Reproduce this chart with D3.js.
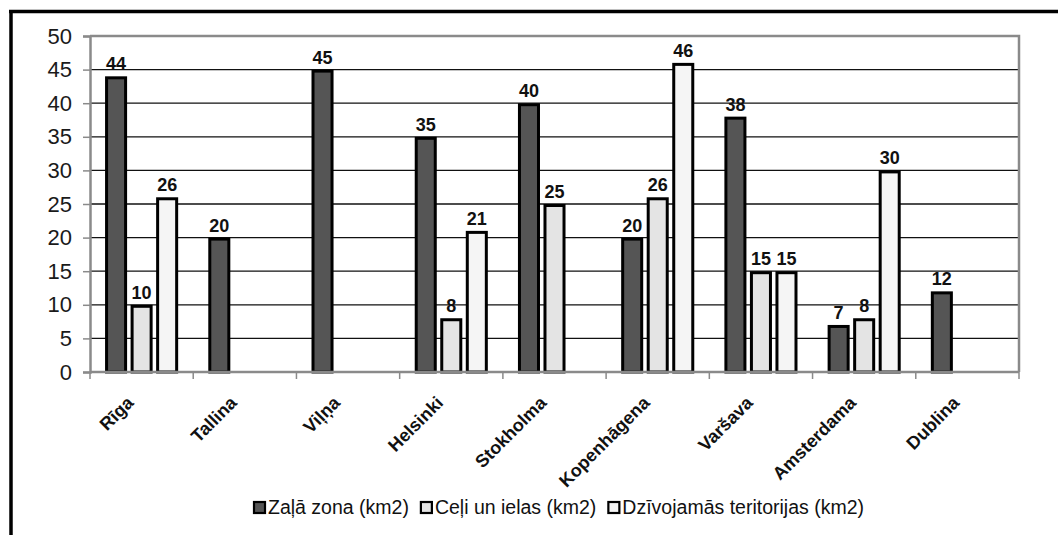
<!DOCTYPE html>
<html lang="lv">
<head>
<meta charset="UTF-8">
<title>Teritorijas</title>
<script src="https://cdn.jsdelivr.net/npm/d3@7"></script>
<style>
  body { margin: 0; background: #fff; }
  svg text { font-family: "Liberation Sans", Arial, sans-serif; }
</style>
</head>
<body>
<svg id="chart" width="1058" height="535"></svg>
<script>
// dati
const pilsetas = ['Rīga', 'Tallina', 'Viļņa', 'Helsinki', 'Stokholma', 'Kopenhāgena', 'Varšava', 'Amsterdama', 'Dublina'];
const serijas = ['Zaļā zona (km2)', 'Ceļi un ielas (km2)', 'Dzīvojamās teritorijas (km2)'];
const zalaZona = [44, 20, 45, 35, 40, 20, 38, 7, 12];
const celi = [10, null, null, 8, 25, 26, 15, 8, null];
const dzivojamas = [26, null, null, 21, null, 46, 15, 30, null];
const yTicks = [0, 5, 10, 15, 20, 25, 30, 35, 40, 45, 50];

const krasas = ['#555555', '#e4e4e4', '#f5f5f5'];
const vertibas = [zalaZona, celi, dzivojamas];

const svg = d3.select('#chart');

// ramis (tikai augsa un kreisa mala redzama)
svg.append('line').attr('x1', 9).attr('x2', 1058).attr('y1', 11.5).attr('y2', 11.5)
    .attr('stroke', '#000').attr('stroke-width', 3.5);
svg.append('line').attr('x1', 11).attr('x2', 11).attr('y1', 10).attr('y2', 535)
    .attr('stroke', '#000').attr('stroke-width', 3.5);

const pLeft = 90, pRight = 1019, pTop = 36, pBottom = 372;

const x = d3.scaleBand().domain(pilsetas).range([pLeft, pRight]).padding(0);
const xs = d3.scaleBand().domain(d3.range(3)).range([0, x.bandwidth()])
    .paddingInner(0.137).paddingOuter(0.59);
const y = d3.scaleLinear().domain([0, 50]).range([pBottom, pTop]);

// rezga linijas
svg.append('g').selectAll('line').data(yTicks.filter(d => d > 0 && d < 50)).enter()
    .append('line')
    .attr('x1', pLeft).attr('x2', pRight)
    .attr('y1', d => y(d)).attr('y2', d => y(d))
    .attr('stroke', '#111').attr('stroke-width', 1.3);

// grafika laukuma augsa un laba mala
svg.append('path')
    .attr('d', `M${pLeft},${pTop}H${pRight}V${pBottom}`)
    .attr('fill', 'none').attr('stroke', '#8a8a8a').attr('stroke-width', 2.5);

// stabini
const grupas = svg.append('g').selectAll('g').data(pilsetas).enter()
    .append('g').attr('transform', d => `translate(${x(d)},0)`);

grupas.selectAll('rect')
    .data((d, i) => vertibas.map((s, k) => ({ k: k, v: s[i] })).filter(o => o.v != null))
    .enter().append('rect')
    .attr('x', d => xs(d.k) + 1.5)
    .attr('width', xs.bandwidth() - 3)
    .attr('y', d => y(d.v) + 1.5)
    .attr('height', d => pBottom - y(d.v) - 1.5)
    .attr('fill', d => krasas[d.k])
    .attr('stroke', '#000').attr('stroke-width', 3);

grupas.selectAll('text')
    .data((d, i) => vertibas.map((s, k) => ({ k: k, v: s[i] })).filter(o => o.v != null))
    .enter().append('text')
    .attr('x', d => xs(d.k) + xs.bandwidth() / 2)
    .attr('y', d => y(d.v) - 6)
    .attr('text-anchor', 'middle')
    .attr('font-size', 18).attr('font-weight', 'bold').attr('fill', '#111')
    .text(d => d.v);

// y ass
const yAxis = svg.append('g').attr('transform', `translate(${pLeft},0)`)
    .call(d3.axisLeft(y).tickValues(yTicks).tickSize(7).tickPadding(11));
yAxis.select('.domain').attr('stroke', '#8a8a8a').attr('stroke-width', 2.5);
yAxis.selectAll('.tick line').attr('stroke', '#8a8a8a').attr('stroke-width', 1.5);
yAxis.selectAll('.tick text').attr('font-size', 22).attr('fill', '#1a1a1a')
    .attr('font-family', '"Liberation Sans", Arial, sans-serif');

// x ass
const xAxis = svg.append('g').attr('transform', `translate(0,${pBottom})`);
xAxis.append('line').attr('x1', pLeft).attr('x2', pRight)
    .attr('stroke', '#8a8a8a').attr('stroke-width', 2.5);
xAxis.selectAll('line.tk').data(d3.range(pilsetas.length + 1)).enter()
    .append('line').attr('class', 'tk')
    .attr('x1', i => pLeft + i * x.step()).attr('x2', i => pLeft + i * x.step())
    .attr('y1', 0).attr('y2', 7)
    .attr('stroke', '#8a8a8a').attr('stroke-width', 1.5);
xAxis.selectAll('text').data(pilsetas).enter().append('text')
    .attr('transform', d => `translate(${x(d) + x.bandwidth() / 2 - 7},32) rotate(-45)`)
    .attr('text-anchor', 'end')
    .attr('font-size', 18).attr('font-weight', 'bold').attr('fill', '#111')
    .text(d => d);

// legenda
const leg = svg.append('g').attr('transform', 'translate(253,514)');
let lx = 0;
serijas.forEach((s, k) => {
    leg.append('rect').attr('x', lx + 1).attr('y', -12).attr('width', 11).attr('height', 11)
        .attr('fill', krasas[k]).attr('stroke', '#000').attr('stroke-width', 2.2);
    const t = leg.append('text').attr('x', lx + 15).attr('y', 0)
        .attr('font-size', 19.5).attr('fill', '#111').text(s);
    lx += 15 + t.node().getComputedTextLength() + 11;
});
</script>
</body>
</html>
